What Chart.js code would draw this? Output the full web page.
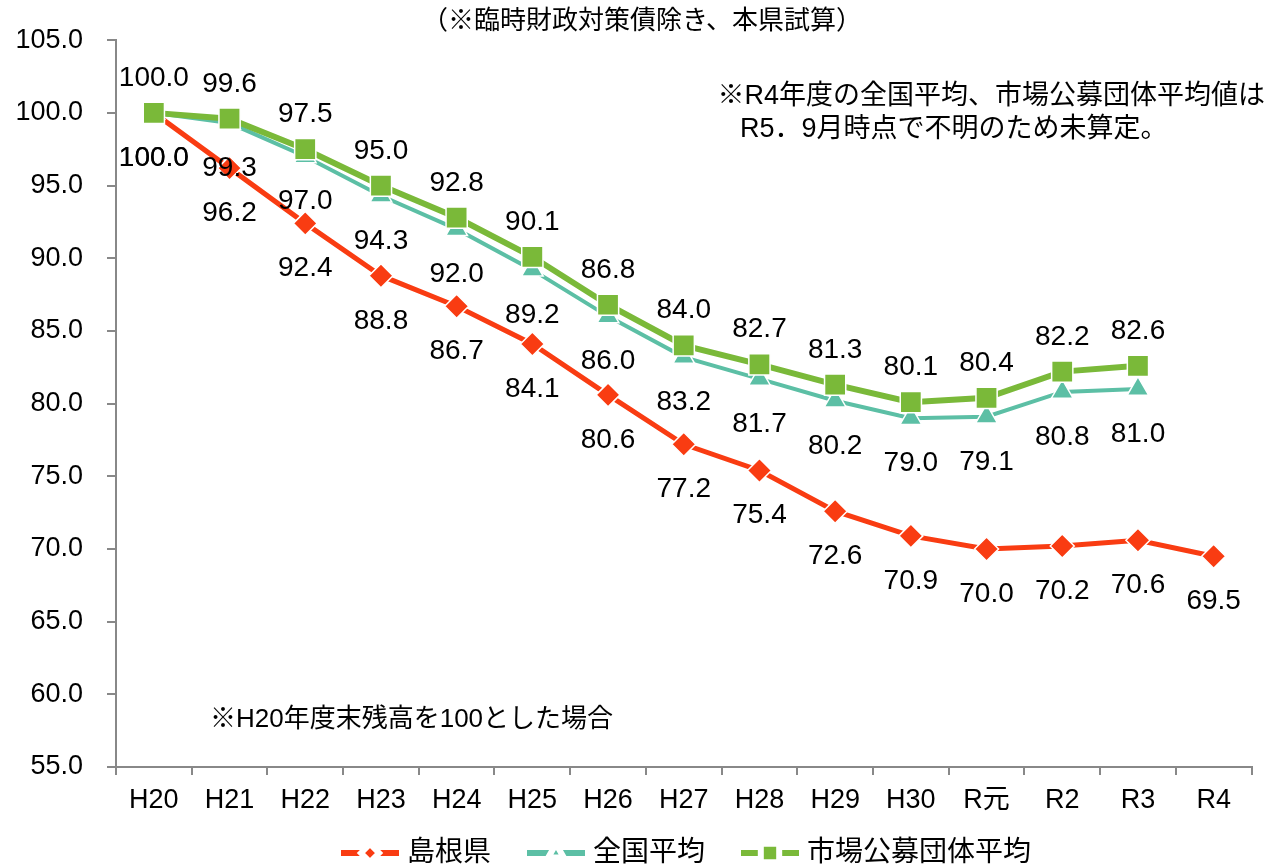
<!DOCTYPE html>
<html>
<head>
<meta charset="utf-8">
<script src="https://cdn.jsdelivr.net/npm/chart.js@4.4.1/dist/chart.umd.min.js"></script>
<style>
  html, body { margin: 0; padding: 0; background: #fff; }
</style>
</head>
<body>
<canvas id="debtChart" width="1268" height="867"></canvas>
<script>
// 年度
const years = ['H20', 'H21', 'H22', 'H23', 'H24', 'H25', 'H26', 'H27', 'H28', 'H29', 'H30', 'R元', 'R2', 'R3', 'R4'];

// H20年度末残高を100とした指数
const shimane = [100.0, 96.2, 92.4, 88.8, 86.7, 84.1, 80.6, 77.2, 75.4, 72.6, 70.9, 70.0, 70.2, 70.6, 69.5];
const zenkoku = [100.0, 99.3, 97.0, 94.3, 92.0, 89.2, 86.0, 83.2, 81.7, 80.2, 79.0, 79.1, 80.8, 81.0, null];
const shijo = [100.0, 99.6, 97.5, 95.0, 92.8, 90.1, 86.8, 84.0, 82.7, 81.3, 80.1, 80.4, 82.2, 82.6, null];

const seriesNames = ['島根県', '全国平均', '市場公募団体平均'];

const yMin = 55, yMax = 105, yStep = 5;

const FONT = '"Liberation Sans", Arial, "Noto Sans CJK JP", sans-serif';
const RED = '#F93C12';
const TEAL = '#5CBFA5';
const GREEN = '#7AB939';

// 数値ラベル（点の上下に描く）
const pointLabels = {
  id: 'pointLabels',
  afterDatasetsDraw(chart) {
    const ctx = chart.ctx;
    ctx.save();
    ctx.font = '28px ' + FONT;
    ctx.fillStyle = '#000';
    ctx.textAlign = 'center';
    ctx.textBaseline = 'alphabetic';
    chart.data.datasets.forEach((ds, i) => {
      const meta = chart.getDatasetMeta(i);
      meta.data.forEach((pt, j) => {
        const v = ds.data[j];
        if (v == null) return;
        ctx.fillText(v.toFixed(1), pt.x, pt.y + ds.labelOffset + 10);
      });
    });
    ctx.restore();
  }
};

// 注記と凡例
const notes = {
  id: 'notes',
  afterDraw(chart) {
    const ctx = chart.ctx;
    ctx.save();
    ctx.setLineDash([]);
    ctx.lineCap = 'butt';
    ctx.fillStyle = '#000';
    ctx.textBaseline = 'middle';

    ctx.font = '26px ' + FONT;
    ctx.textAlign = 'center';
    ctx.fillText('（※臨時財政対策債除き、本県試算）', 642, 22);

    ctx.font = '27px ' + FONT;
    ctx.textAlign = 'right';
    ctx.fillText('※R4年度の全国平均、市場公募団体平均値は', 1265, 97);
    ctx.textAlign = 'left';
    ctx.fillText('R5．9月時点で不明のため未算定。', 740, 130);
    ctx.font = '26px ' + FONT;
    ctx.fillText('※H20年度末残高を100とした場合', 210, 720);

    // legend
    const y = 853;
    const iconW = 58, gap = 8, spacing = 36;
    ctx.font = '28px ' + FONT;
    const ds = chart.data.datasets;
    const widths = ds.map(d => iconW + gap + ctx.measureText(d.label).width);
    const total = widths.reduce((a, b) => a + b, 0) + spacing * (ds.length - 1);
    let x = 686 - total / 2;
    ds.forEach((d, i) => {
      ctx.strokeStyle = d.borderColor;
      ctx.lineWidth = 6;
      ctx.beginPath();
      ctx.moveTo(x, y);
      ctx.lineTo(x + iconW, y);
      ctx.stroke();
      ctx.fillStyle = d.borderColor;
      ctx.strokeStyle = '#fff';
      Chart.helpers.drawPoint(ctx, {
        pointStyle: d.pointStyle,
        radius: d.legendRadius,
        rotation: 0,
        borderWidth: 1
      }, x + iconW / 2, y);
      ctx.fillStyle = '#000';
      ctx.textAlign = 'left';
      ctx.fillText(d.label, x + iconW + gap, y);
      x += widths[i] + spacing;
    });
    ctx.restore();
  }
};

const ctx = document.getElementById('debtChart').getContext('2d');

new Chart(ctx, {
  type: 'line',
  data: {
    labels: years,
    datasets: [
      {
        label: seriesNames[0],
        data: shimane,
        borderColor: RED,
        backgroundColor: RED,
        borderWidth: 5,
        pointStyle: 'rectRot',
        pointRadius: 12,
        pointBorderColor: '#fff',
        pointBorderWidth: 1.5,
        pointBackgroundColor: RED,
        labelOffset: 43,
        legendRadius: 9,
        order: 2
      },
      {
        label: seriesNames[1],
        data: zenkoku,
        borderColor: TEAL,
        backgroundColor: TEAL,
        borderWidth: 4,
        pointStyle: 'triangle',
        pointRadius: 12.5,
        pointBorderColor: '#fff',
        pointBorderWidth: 1.5,
        pointBackgroundColor: TEAL,
        labelOffset: 43,
        legendRadius: 9,
        order: 1
      },
      {
        label: seriesNames[2],
        data: shijo,
        borderColor: GREEN,
        backgroundColor: GREEN,
        borderWidth: 6,
        pointStyle: 'rect',
        pointRadius: 15,
        pointBorderColor: '#fff',
        pointBorderWidth: 1.5,
        pointBackgroundColor: GREEN,
        labelOffset: -37,
        legendRadius: 13,
        order: 0
      }
    ]
  },
  options: {
    responsive: false,
    animation: false,
    layout: { padding: { top: 36, right: 6, left: 0, bottom: 0 } },
    plugins: {
      legend: { display: false },
      tooltip: { enabled: false }
    },
    scales: {
      x: {
        offset: true,
        grid: {
          display: true,
          drawOnChartArea: false,
          offset: true,
          tickLength: 8,
          color: '#888',
          lineWidth: 2
        },
        border: { color: '#888', width: 2 },
        ticks: {
          color: '#000',
          font: { size: 27, family: FONT },
          padding: 9,
          maxRotation: 0,
          autoSkip: false
        },
        afterFit: s => { s.height = 100; }
      },
      y: {
        min: yMin,
        max: yMax,
        grid: {
          display: true,
          drawOnChartArea: false,
          tickLength: 9,
          color: '#888',
          lineWidth: 2
        },
        border: { color: '#888', width: 2 },
        ticks: {
          stepSize: yStep,
          color: '#000',
          font: { size: 27, family: FONT },
          padding: 24,
          callback: v => v.toFixed(1)
        },
        afterFit: s => { s.width = 116; }
      }
    }
  },
  plugins: [pointLabels, notes]
});
</script>
</body>
</html>
